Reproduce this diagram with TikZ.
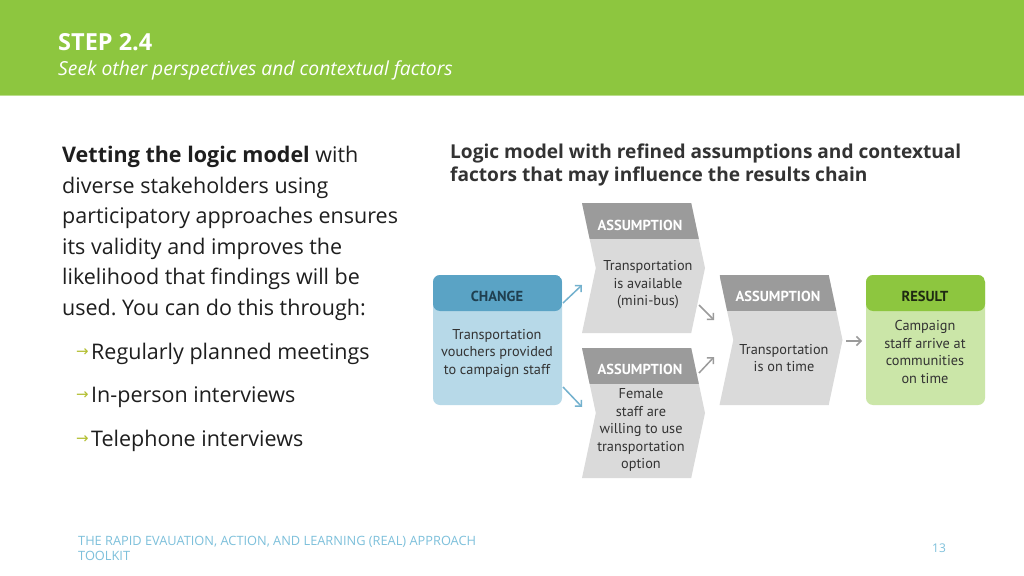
\documentclass[tikz,border=0pt]{standalone}
\usepackage{fontspec}
\setmainfont{Open Sans}
\newfontfamily\diagfont{PT Sans}
\newfontfamily\symfont{DejaVu Sans}
\usetikzlibrary{arrows.meta,shapes.symbols}
\frenchspacing
\definecolor{Leaf}{HTML}{8DC63F}
\definecolor{LeafSoft}{HTML}{CBE6A8}
\definecolor{Sky}{HTML}{5AA3C5}
\definecolor{SkySoft}{HTML}{B7D9E8}
\definecolor{Slate}{HTML}{9B9B9B}
\definecolor{Mist}{HTML}{DADADA}
\definecolor{Ink}{HTML}{1E1E1E}
\definecolor{Graphite}{HTML}{333333}
\definecolor{Olive}{HTML}{B3BF31}
\definecolor{Deep}{HTML}{1F3F50}
\definecolor{Moss}{HTML}{1F2A12}
\definecolor{Foot}{HTML}{7DC0DB}
\tikzset{
  band/.style={path picture={\fill[#1] (path picture bounding box.north west) rectangle ([yshift=-36pt]path picture bounding box.north east);}},
  change/.style={rounded corners=7pt,minimum width=129pt,minimum height=130pt,inner sep=0pt,fill=SkySoft,band=Sky},
  result/.style={rounded corners=7pt,minimum width=119pt,minimum height=130pt,inner sep=0pt,fill=LeafSoft,band=Leaf},
  chev/.style={signal,signal to=east,signal from=west,signal pointer angle=156,minimum width=123pt,minimum height=130pt,inner sep=0pt,fill=Mist,band=Slate},
  hd/.style={font=\diagfont\bfseries\fontsize{14.5}{16}\selectfont,text=#1,inner sep=0pt},
  txt/.style={font=\diagfont\fontsize{14.3}{17.5}\selectfont,text=Graphite,align=center,inner sep=0pt},
  para/.style={font=\fontsize{21.5}{30.5}\selectfont,text=Ink,align=left,inner sep=0pt},
  bullet/.style={font=\symfont\fontsize{15}{16}\selectfont,text=Olive,inner sep=0pt},
  arr/.style={-{Straight Barb[length=4.5pt,width=9pt]},line width=1.5pt,draw=#1}
}

\begin{document}
\begin{tikzpicture}[x=1pt,y=-1pt]
  \useasboundingbox (0,0) rectangle (1024,575);
  \fill[white] (0,0) rectangle (1024,575);
  \fill[Leaf] (0,0) rectangle (1024,95);
  \fill[Leaf!60] (0,95) rectangle (1024,96.5);
  \node[anchor=base west,inner sep=0pt,text=white,font=\bfseries\fontsize{23.5}{26}\selectfont] (step) at (58,51) {STEP 2.4};
  \node[anchor=base west,inner sep=0pt,text=white,font=\itshape\fontsize{19.3}{22}\selectfont] (sub) at (58,76) {Seek other perspectives and contextual factors};
  % left column
  \node[para,anchor=north west] (intro) at (62,146) {\textbf{Vetting the logic model} with\\diverse stakeholders using\\participatory approaches ensures\\its validity and improves the\\likelihood that findings will be\\used. You can do this through:};
  \node[bullet,anchor=base west] (b1) at (76,356) {→};
  \node[para,anchor=base west] (m1) at (91,359) {Regularly planned meetings};
  \node[bullet,anchor=base west] (b2) at (76,399) {→};
  \node[para,anchor=base west] (m2) at (91,402) {In-person interviews};
  \node[bullet,anchor=base west] (b3) at (76,443) {→};
  \node[para,anchor=base west] (m3) at (91,446) {Telephone interviews};
  % logic model
  \node[anchor=north west,inner sep=0pt,align=left,text=Graphite,font=\bfseries\fontsize{19.1}{23}\selectfont] (title) at (450,144) {Logic model with refined assumptions and contextual\\factors that may influence the results chain};
  \node[change] (chg) at (497.5,340) {};
  \node[chev] (asA) at (643.5,268) {};
  \node[chev] (asB) at (643.5,413) {};
  \node[chev] (asC) at (781,340) {};
  \node[result] (res) at (925.5,340) {};
  \node[hd=Deep] (chgh) at (497,296) {CHANGE};
  \node[txt] (chgt) at (497,353) {Transportation\\vouchers provided\\to campaign staff};
  \node[hd=white] (asAh) at (640,225) {ASSUMPTION};
  \node[txt] (asAt) at (648,285) {Transportation\\is available\\(mini-bus)};
  \node[hd=white] (asBh) at (640,369) {ASSUMPTION};
  \node[txt] (asBt) at (641,430) {Female\\staff are\\willing to use\\transportation\\option};
  \node[hd=white] (asCh) at (778,296) {ASSUMPTION};
  \node[txt] (asCt) at (784,358) {Transportation\\is on time};
  \node[hd=Moss] (resh) at (925,296) {RESULT};
  \node[txt] (rest) at (925,352) {Campaign\\staff arrive at\\communities\\on time};
  \coordinate (c1) at (563,303);
  \coordinate (c2) at (582,285);
  \coordinate (c3) at (563,387);
  \coordinate (c4) at (582,407);
  \coordinate (c5) at (699,305);
  \coordinate (c6) at (714,320);
  \coordinate (c7) at (699,373);
  \coordinate (c8) at (714,357);
  \coordinate (c9) at (846,341);
  \coordinate (c10) at (862,341);
  \draw[arr=Sky!85] (c1) -- (c2);
  \draw[arr=Sky!85] (c3) -- (c4);
  \draw[arr=Slate] (c5) -- (c6);
  \draw[arr=Slate] (c7) -- (c8);
  \draw[arr=Slate] (c9) -- (c10);
  % footer
  \node[anchor=base west,inner sep=0pt,align=left,text=Foot,font=\fontsize{12.8}{15}\selectfont] (foot) at (78,560) {THE RAPID EVAUATION, ACTION, AND LEARNING (REAL) APPROACH\\TOOLKIT};
  \node[anchor=base west,inner sep=0pt,text=Foot,font=\fontsize{12}{15}\selectfont] (page) at (932,552) {13};
\end{tikzpicture}
\end{document}
